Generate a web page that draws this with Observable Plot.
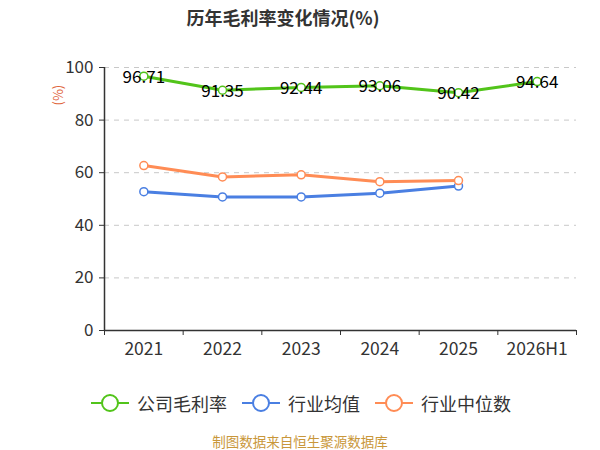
<!DOCTYPE html>
<html><head><meta charset="utf-8">
<script src="https://cdn.jsdelivr.net/npm/d3@7"></script>
<script src="https://cdn.jsdelivr.net/npm/@observablehq/plot@0.6"></script>
<style>
body{margin:0;background:#fff;font-family:"Noto Sans CJK SC","Noto Sans",sans-serif;}
#wrap{position:relative;width:600px;height:450px;}
#title{position:absolute;left:0;top:4px;width:566px;text-align:center;font-size:18px;font-weight:bold;color:#333;}
#chart{position:absolute;left:0;top:40px;}
#legend{position:absolute;top:390px;left:0;width:600px;height:26px;}
.li{position:absolute;top:0;display:flex;align-items:center;font-size:18px;color:#333;}
.li svg{margin-right:8px;}
#caption{position:absolute;top:431px;left:0;width:600px;text-align:center;font-size:13.5px;color:#c9973a;}
</style></head>
<body><div id="wrap">
<div id="title">历年毛利率变化情况(%)</div>
<div id="chart"></div>
<div id="legend"></div>
<div id="caption">制图数据来自恒生聚源数据库</div>
</div>
<script>
const categories = ["2021","2022","2023","2024","2025","2026H1"];
const companyRate = [96.71, 91.35, 92.44, 93.06, 90.42, 94.64];
const industryMean = [52.8, 50.8, 50.8, 52.2, 54.9];
const industryMedian = [62.7, 58.4, 59.2, 56.6, 57.0];
const seriesNames = ["公司毛利率","行业均值","行业中位数"];
const colors = ["#52c41a","#4a7fe2","#ff8c55"];
const yTicks = [0,20,40,60,80,100];

const rows = [];
[companyRate, industryMean, industryMedian].forEach((vals, s) => {
  vals.forEach((v, i) => rows.push({series: seriesNames[s], x: i + 0.5, cat: categories[i], v}));
});
const company = rows.filter(d => d.series === seriesNames[0]);
const bounds = d3.range(categories.length + 1);
const centers = categories.map((c, i) => i + 0.5);

const plot = Plot.plot({
  width: 600, height: 330,
  marginTop: 27, marginBottom: 40, marginLeft: 104, marginRight: 24,
  style: {fontFamily: '"Noto Sans CJK SC","Noto Sans",sans-serif', color: "#333", background: "#fff"},
  x: {type: "linear", domain: [0, categories.length], axis: null},
  y: {domain: [0, 100], axis: null},
  color: {domain: seriesNames, range: colors},
  marks: [
    Plot.ruleY(yTicks.filter(t => t > 0), {stroke: "#c8c8c8", strokeDasharray: "5,5", strokeWidth: 1}),
    Plot.axisY({ticks: yTicks, tickSize: 5, tickPadding: 6, fontSize: 17, stroke: "#333", color: "#333", label: null}),
    Plot.axisX({ticks: bounds, tickSize: 5, tickFormat: () => "", stroke: "#333", label: null}),
    Plot.axisX({ticks: centers, tickSize: 0, tickPadding: 12, fontSize: 17.5, color: "#333",
      tickFormat: d => categories[Math.round(d - 0.5)], label: null}),
    Plot.ruleY([0], {stroke: "#333", strokeWidth: 1.5}),
    Plot.ruleX([0], {stroke: "#333", strokeWidth: 1.5}),
    Plot.text(["(%)"], {frameAnchor: "top-left", dx: -51, dy: 38, rotate: -90, fill: "#e0643a", fontSize: 13}),
    Plot.line(rows, {x: "x", y: "v", z: "series", stroke: "series", strokeWidth: 3, curve: "linear"}),
    Plot.dot(rows, {x: "x", y: "v", stroke: "series", fill: "white", r: 4, strokeWidth: 1.5}),
    Plot.text(company, {x: "x", y: "v", text: d => d.v.toFixed(2), fill: "#000", fontSize: 17, dy: 1, lineAnchor: "middle"})
  ]
});
document.getElementById("chart").appendChild(plot);

const legend = document.getElementById("legend");
const lefts = [91, 242, 375];
seriesNames.forEach((n, i) => {
  const d = document.createElement("div");
  d.className = "li";
  d.style.left = lefts[i] + "px";
  d.innerHTML = `<svg width="38" height="22"><line x1="0" y1="11" x2="38" y2="11" stroke="${colors[i]}" stroke-width="2"/><circle cx="19" cy="11" r="8" fill="white" stroke="${colors[i]}" stroke-width="2"/></svg><span>${n}</span>`;
  legend.appendChild(d);
});
</script>
</body></html>
